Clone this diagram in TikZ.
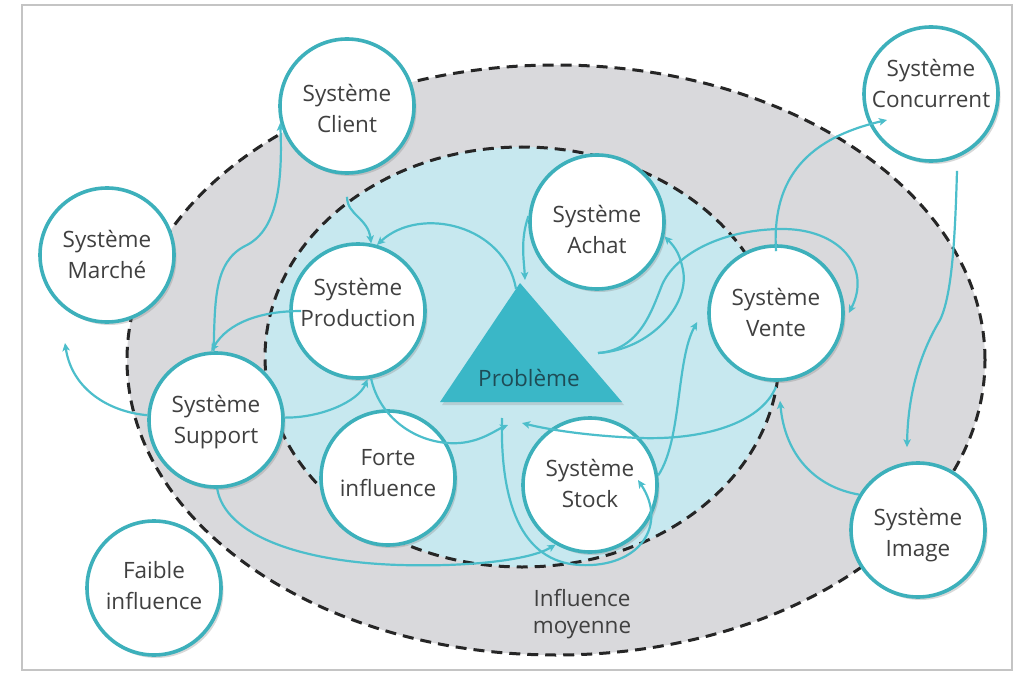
\documentclass[tikz,border=0pt]{standalone}
\usepackage{fontspec}
\setmainfont{Open Sans}
\usetikzlibrary{shadows,arrows.meta,calc}
\definecolor{outerfill}{HTML}{D9D9DC}
\definecolor{innerfill}{HTML}{C7E8EF}
\definecolor{ringcol}{HTML}{3DB0BB}
\definecolor{linkcol}{HTML}{4CBECB}
\definecolor{trifill}{HTML}{3AB7C7}
\definecolor{txtcol}{HTML}{404040}
\definecolor{probtxt}{HTML}{1E4C56}
\definecolor{framecol}{HTML}{C4C4C4}
\begin{document}
\begin{tikzpicture}[x=1pt,y=-1pt,
  sys/.style={circle,draw=ringcol,line width=3.6pt,fill=white,minimum size=134pt,inner sep=0pt,
     drop shadow={shadow xshift=2.5pt,shadow yshift=-3pt,opacity=0.3}},
  lbl/.style={align=center,text=txtcol,font=\fontsize{22.5}{31}\selectfont,inner sep=0pt,text depth=0pt},
  link/.style={draw=linkcol,line width=2.2pt,-{Stealth[length=8pt,width=7.5pt,inset=2pt]}},
  zone/.style={draw=black!85,line width=3pt,dash pattern=on 11pt off 7pt}]
\useasboundingbox (0,0) rectangle (1015,674);
\fill[white] (0,0) rectangle (1015,674);
\draw[framecol,line width=1.3pt] (22,5) rectangle (1012,670);
% zones
\path[zone,fill=outerfill] (556,360) ellipse [x radius=429pt, y radius=295pt];
\path[zone,fill=innerfill] (522,357) ellipse [x radius=257pt, y radius=210pt];
% problem triangle
\path[fill=trifill,drop shadow={shadow xshift=2pt,shadow yshift=-3pt,opacity=0.25}] (520,283) -- (440,402) -- (622,402) -- cycle;
\node[lbl,text=probtxt] (prob) at (529,378) {Problème};
\coordinate (tA) at (516,289);
\coordinate (tB) at (525,280);
\coordinate (tC) at (598,353);
\coordinate (tD) at (522,423);
\coordinate (tE) at (508,425);
\coordinate (tF) at (502,418);
\coordinate (mk) at (65,343);
% system circles
\node[sys] (client) at (347,106) {};
\node[lbl] (clientT) at (347,108) {Système\\Client};
\node[sys] (marche) at (107,255) {};
\node[lbl] (marcheT) at (107,254) {Système\\Marché};
\node[sys] (prod) at (358,311) {};
\node[lbl] (prodT) at (358,302) {Système\\Production};
\node[sys] (achat) at (597,222) {};
\node[lbl] (achatT) at (597,229) {Système\\Achat};
\node[sys] (vente) at (776,313) {};
\node[lbl] (venteT) at (776,312) {Système\\Vente};
\node[sys] (conc) at (931,94) {};
\node[lbl] (concT) at (931,83) {Système\\Concurrent};
\node[sys] (support) at (216,420) {};
\node[lbl] (supportT) at (216,419) {Système\\Support};
\node[sys] (faible) at (154,588) {};
\node[lbl] (faibleT) at (154,585) {Faible\\influence};
\node[sys] (forte) at (388,478) {};
\node[lbl] (forteT) at (388,473) {Forte\\influence};
\node[sys] (stock) at (590,485) {};
\node[lbl] (stockT) at (590,483) {Système\\Stock};
\node[sys] (img) at (918,530) {};
\node[lbl] (imgT) at (918,532) {Système\\Image};
\node[lbl,font=\fontsize{22.5}{27}\selectfont] (moy) at (582,611) {Influence\\moyenne};
% connectors
\draw[link] (support.92) .. controls (215,300) and (214,262) .. (245,246) .. controls (275,232) and (283,190) .. (client.194);
\draw[link] ([xshift=12pt]prod.west) .. controls (262,311) and (228,322) .. (support.94);
\draw[link] ([yshift=-22pt]client.south) .. controls (347,215) and (368,218) .. (prod.79);
\draw[link] (tA) .. controls (505,225) and (420,205) .. (prod.74);
\draw[link] (achat.175) .. controls (520,240) and (524,260) .. (tB);
\draw[link] (tC) .. controls (650,350) and (690,305) .. (683,270) .. controls (680,255) and (676,248) .. (achat.-12);
\draw[link] (tC) .. controls (640,350) and (652,310) .. (662,285) .. controls (675,255) and (720,230) .. (780,229) .. controls (840,228) and (872,268) .. ([xshift=4pt]vente.east);
\draw[link] ([yshift=-7pt]vente.north) .. controls (772,185) and (800,140) .. ([xshift=-44pt,yshift=-26pt]conc.center);
\draw[link] ([xshift=26pt,yshift=-8pt]conc.south) .. controls (955,240) and (952,295) .. (940,320) .. controls (922,350) and (908,390) .. ([xshift=-11pt,yshift=14pt]img.north);
\draw[link] (img.149) .. controls (815,487) and (785,455) .. ([xshift=4pt,yshift=-19pt]vente.south);
\draw[link] ([yshift=-5pt]vente.south) .. controls (760,425) and (700,440) .. (640,438) .. controls (590,436) and (550,430) .. (tD);
\draw[link] (prod.-79) .. controls (380,420) and (420,446) .. (460,443) .. controls (482,441) and (496,430) .. (tE);
\draw[link] (support.2) .. controls (320,418) and (358,402) .. (prod.-82);
\draw[link] (support.176) .. controls (110,412) and (72,390) .. (mk);
\draw[link] (support.-89) .. controls (225,535) and (300,562) .. (400,565) .. controls (470,567) and (530,560) .. (stock.240);
\draw[link] (tF) .. controls (500,500) and (520,562) .. (580,565) .. controls (640,568) and (668,525) .. ([xshift=48pt,yshift=5pt]stock.center);
\draw[link] (stock.8) .. controls (682,440) and (676,360) .. ([xshift=-10pt,yshift=-9pt]vente.west);
\end{tikzpicture}
\end{document}
